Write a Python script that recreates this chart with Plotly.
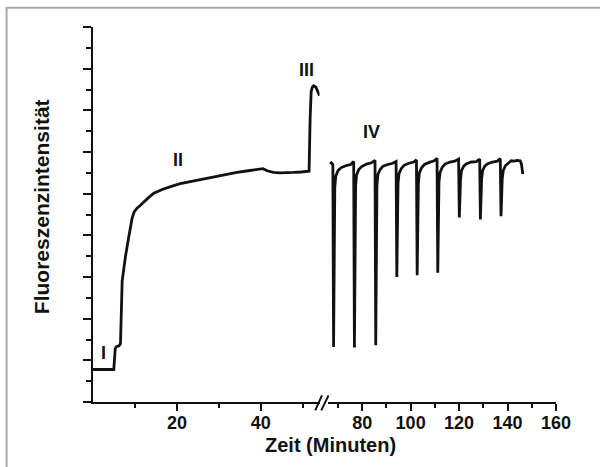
import plotly.graph_objects as go

# ---- data ----
# left segment: time (min) and fluorescence (arb. units)
t_left = [0, 4.95, 5.3, 5.6, 6.2, 6.55, 6.95, 7.4, 7.75, 8.5, 9.3, 9.8, 10.5, 11.3,
          12.1, 13.3, 14.5, 16.5, 18.5, 20.8, 23.2, 26.0, 28.8, 31.5, 34.3, 37.0,
          39.5, 40.5, 41.5, 43.0, 44.6, 46.2, 47.8, 49.6, 51.5, 51.75, 52.0, 52.3,
          52.6, 53.1, 53.6, 54.0]
f_left = [0.78, 0.78, 1.28, 1.33, 1.35, 1.40, 2.90, 3.25, 3.50, 3.95, 4.40, 4.56,
          4.65, 4.72, 4.80, 4.91, 5.01, 5.10, 5.17, 5.24, 5.29, 5.35, 5.41, 5.46,
          5.51, 5.55, 5.59, 5.60, 5.55, 5.51, 5.50, 5.50, 5.51, 5.52, 5.54, 6.80,
          7.45, 7.56, 7.59, 7.56, 7.45, 7.35]

# right segment (pulses)
t_right = [66.8, 67.3, 67.9, 68.2, 68.7, 69.1, 70.0, 71.2, 73.2, 75.2, 76.5,
           76.8, 77.3, 77.7, 78.6, 79.8, 81.8, 83.8, 85.3,
           85.6, 86.1, 86.5, 87.4, 88.6, 90.6, 92.6, 94.0,
           94.3, 94.8, 95.2, 96.1, 97.3, 99.3, 101.3, 102.4,
           102.7, 103.2, 103.6, 104.5, 105.7, 107.7, 109.7, 110.9,
           111.2, 111.7, 112.1, 113.0, 114.2, 116.2, 118.2, 119.8,
           120.1, 120.6, 121.0, 121.9, 123.1, 125.1, 127.1, 128.5,
           128.8, 129.3, 129.7, 130.6, 131.8, 133.8, 135.8, 137.0,
           137.3, 137.8, 138.2, 139.1, 140.3, 141.5, 142.7, 143.9, 145.2,
           145.7, 146.0, 146.3]
f_right = [5.71, 5.74, 5.70, 1.32, 5.15, 5.42, 5.55, 5.62, 5.67, 5.70, 5.77,
           1.31, 5.20, 5.45, 5.58, 5.65, 5.71, 5.74, 5.80,
           1.36, 5.20, 5.46, 5.58, 5.66, 5.70, 5.73, 5.77,
           3.00, 5.25, 5.48, 5.60, 5.68, 5.73, 5.76, 5.81,
           3.04, 5.25, 5.50, 5.62, 5.70, 5.75, 5.79, 5.85,
           3.10, 5.28, 5.50, 5.63, 5.71, 5.76, 5.78, 5.83,
           4.43, 5.35, 5.55, 5.66, 5.72, 5.76, 5.77, 5.83,
           4.38, 5.35, 5.55, 5.66, 5.72, 5.76, 5.78, 5.84,
           4.46, 5.35, 5.55, 5.67, 5.74, 5.79, 5.78, 5.80, 5.79,
           5.72, 5.60, 5.47]

left_ticks = [20, 40]
left_minor = [10, 30, 50]
right_ticks = [80, 100, 120, 140, 160]
right_minor = [70, 90, 110, 130, 150]

phase_labels = ["I", "II", "III", "IV"]
phase_t = [2.6, 20.2, 50.8, 83.7]
phase_f = [1.17, 5.81, 7.98, 6.49]
phase_axis = ["x", "x", "x", "x2"]

FONT = "Liberation Sans, Arial, sans-serif"
INK = "#111111"

# ---- geometry (pixels) ----
W, H = 600, 467
L, R, T, B = 92.5, 556, 27.2, 401.6
pw, ph = R - L, B - T


def px(x):
    return (x - L) / pw


def py(y):
    return (B - y) / ph


fig = go.Figure()
fig.add_trace(go.Scatter(x=t_left, y=f_left, mode="lines", xaxis="x", yaxis="y",
                         line=dict(color=INK, width=2.8), showlegend=False))
fig.add_trace(go.Scatter(x=t_right, y=f_right, mode="lines", xaxis="x2", yaxis="y",
                         line=dict(color=INK, width=2.8), showlegend=False))

tickfont = dict(family=FONT, size=18, color=INK, weight="bold")
common_x = dict(showline=True, linecolor=INK, linewidth=2.2, ticks="outside",
                ticklen=7, tickwidth=2.2, tickcolor=INK, showgrid=False,
                zeroline=False, tickfont=tickfont, anchor="y",
                ticklabelstandoff=-4)

fig.update_layout(
    width=W, height=H,
    margin=dict(l=L, r=W - R, t=T, b=H - B),
    paper_bgcolor="white", plot_bgcolor="white",
    xaxis=dict(domain=[0, px(319.3)], range=[0, 54], tickvals=left_ticks,
               minor=dict(tickvals=left_minor, ticklen=4, tickwidth=2.2,
                          tickcolor=INK, ticks="outside"), **common_x),
    xaxis2=dict(domain=[px(328), 1], range=[66, 160], tickvals=right_ticks,
                minor=dict(tickvals=right_minor, ticklen=4, tickwidth=2.2,
                           tickcolor=INK, ticks="outside"), **common_x),
    yaxis=dict(range=[0, 9], tickvals=list(range(0, 10)), showticklabels=False,
               showline=True, linecolor=INK, linewidth=2.2, ticks="outside",
               ticklen=8, tickwidth=2.2, tickcolor=INK, showgrid=False,
               zeroline=False,
               minor=dict(tickvals=[i + 0.5 for i in range(9)], ticklen=5,
                          tickwidth=2.2, tickcolor=INK, ticks="outside")),
)

annotations = []
for lab, t, f, ax in zip(phase_labels, phase_t, phase_f, phase_axis):
    annotations.append(dict(text=lab, x=t, y=f, xref=ax, yref="y", showarrow=False,
                            xanchor="center", yanchor="middle",
                            font=dict(family=FONT, size=18, color=INK, weight="bold")))
annotations.append(dict(text="Fluoreszenzintensität", x=px(41), y=py(206.5),
                        xref="paper", yref="paper", showarrow=False, textangle=-90,
                        xanchor="center", yanchor="middle",
                        font=dict(family=FONT, size=21, color=INK, weight="bold")))
annotations.append(dict(text="Zeit (Minuten)", x=px(330.5), y=py(445),
                        xref="paper", yref="paper", showarrow=False,
                        xanchor="center", yanchor="middle",
                        font=dict(family=FONT, size=20, color=INK, weight="bold")))
fig.update_layout(annotations=annotations)

shapes = []
# axis break marks
for (x0, y0, x1, y1) in [(315, 410, 321.7, 395), (321, 410, 328.3, 395)]:
    shapes.append(dict(type="line", xref="paper", yref="paper",
                       x0=px(x0), y0=py(y0), x1=px(x1), y1=py(y1),
                       line=dict(color=INK, width=2)))
# light frame (top and left visible)
shapes.append(dict(type="rect", xref="paper", yref="paper",
                   x0=px(6), y0=py(8), x1=px(640), y1=py(500),
                   line=dict(color="#aaaaaa", width=2), layer="below"))
fig.update_layout(shapes=shapes)

fig.write_html("out.html",
               config={"displayModeBar": False},
               post_script="document.body.style.margin='0';"
                           "document.body.style.overflow='hidden';")
